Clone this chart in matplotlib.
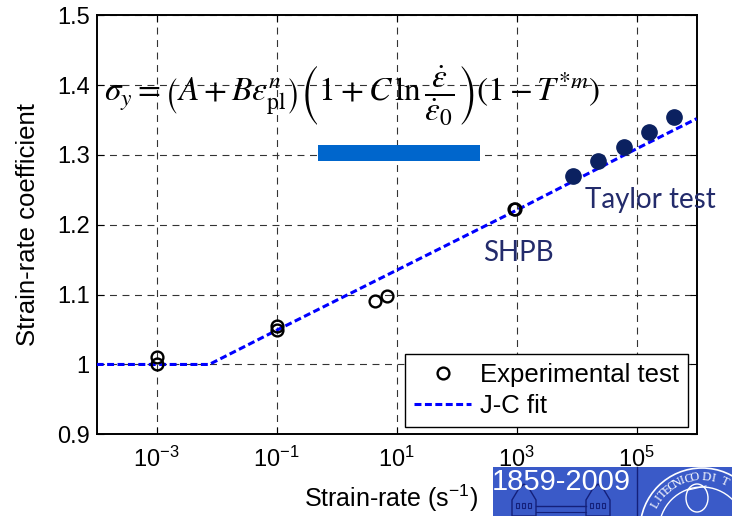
import numpy as np
import matplotlib
matplotlib.use('Agg')
import matplotlib.pyplot as plt
from matplotlib.patches import Rectangle, Circle, Ellipse, Polygon
from matplotlib.ticker import NullLocator

plt.rcParams['font.family'] = ['Liberation Sans', 'DejaVu Sans']
plt.rcParams['font.size'] = 17
plt.rcParams['lines.scale_dashes'] = False

# quasi-static / Hopkinson bar tests (open circles)
exp_rate = [1e-3, 1e-3, 0.1, 0.1, 4.4, 7.0, 900, 940]
exp_coef = [1.000, 1.010, 1.049, 1.055, 1.091, 1.098, 1.222, 1.223]

# Taylor impact tests
taylor_rate = [8.7e3, 2.26e4, 6.1e4, 1.62e5, 4.2e5]
taylor_coef = [1.270, 1.291, 1.312, 1.333, 1.354]

# Johnson-Cook strain-rate term
fit_rate = [1e-4, 7.5e-3, 1e-1, 1e0, 1e1, 1e2, 1e3, 1e4, 1e5, 1e6]
fit_coef = [1.0, 1.0, 1.049, 1.092, 1.135, 1.178, 1.221, 1.265, 1.309, 1.352]

xticks = [1e-3, 1e-1, 1e1, 1e3, 1e5]
xtick_labels = [r'$\mathregular{10^{-3}}$', r'$\mathregular{10^{-1}}$',
                r'$\mathregular{10^{1}}$', r'$\mathregular{10^{3}}$',
                r'$\mathregular{10^{5}}$']
yticks = [0.9, 1.0, 1.1, 1.2, 1.3, 1.4, 1.5]
ytick_labels = ['0.9', '1', '1.1', '1.2', '1.3', '1.4', '1.5']

W, H = 732, 516
fig = plt.figure(figsize=(W / 100, H / 100), dpi=100)
ax = fig.add_axes([96.7 / W, 1 - 434.3 / H, 600 / W, 419 / H])

h_fit, = ax.plot(fit_rate, fit_coef, color='#0000FF', lw=2.2, dashes=(5, 2.5),
                 label='J-C fit', zorder=3)
h_exp, = ax.plot(exp_rate, exp_coef, ls='none', marker='o', ms=8.5, mfc='none',
                 mec='k', mew=1.7, label='Experimental test', zorder=4)
ax.plot(taylor_rate, taylor_coef, ls='none', marker='o', ms=11,
        color='#0B2160', zorder=4)

ax.set_xscale('log')
ax.set_xlim(1e-4, 1e6)
ax.set_ylim(0.9, 1.5)
ax.set_xticks(xticks, labels=xtick_labels)
ax.xaxis.set_minor_locator(NullLocator())
ax.set_yticks(yticks, labels=ytick_labels)
ax.tick_params(direction='in', length=5, width=0.8, top=True, right=True)
ax.tick_params(axis='y', pad=5)
ax.tick_params(axis='x', pad=9)
for s in ax.spines.values():
    s.set_linewidth(1.4)
ax.grid(True, color='0.2', lw=0.8, linestyle=(0, (5, 4)))
ax.set_axisbelow(True)

ax.set_ylabel('Strain-rate coefficient', fontsize=18.5)
ax.yaxis.set_label_coords(-0.095, 0.5)
ax.set_xlabel(r'Strain-rate (s$^{\mathregular{-1}}$)', fontsize=18, va='baseline')
ax.xaxis.set_label_coords(0.4905, -0.1728)

leg = ax.legend(handles=[h_exp, h_fit], loc='lower right',
                bbox_to_anchor=(0.9855, 0.018), borderaxespad=0, fancybox=False,
                edgecolor='k', framealpha=1, handlelength=2.2, fontsize=18.5,
                handletextpad=0.35, borderpad=0.35, labelspacing=0.25)
leg.get_frame().set_linewidth(1.0)

ax.text(13750, 1.2245, 'Taylor test', family='Lato', size=20,
        color='#232B6B', va='baseline')
ax.text(277, 1.148, 'SHPB', family='Lato', size=20, color='#232B6B',
        va='baseline')

# overlay in pixel coordinates: equation, bar and logo strip
ov = fig.add_axes([0, 0, 1, 1], zorder=5)
ov.set_xlim(0, W)
ov.set_ylim(H, 0)
ov.axis('off')
ov.patch.set_alpha(0)

eq = (r'$\sigma_y = \left(A + B\varepsilon_{\mathrm{pl}}^{n}\right)'
      r'\left(1 + C\,\ln\dfrac{\dot{\varepsilon}}{\dot{\varepsilon}_0}\right)'
      r'\left(1 - T^{*m}\right)$')
ov.text(352, 101, eq, fontsize=24, math_fontfamily='stix', ha='center',
        va='baseline')
ov.add_patch(Rectangle((318.3, 145), 161.7, 15.7, color='#0066CC', lw=0))

ov.add_patch(Rectangle((493, 467), 239, 49, color='#3A5AC8', lw=0))
ov.text(492, 490, '1859-2009', color='white', size=21, va='baseline')
ov.plot([636.5, 636.5], [467, 516], color='#14207A', lw=1)
# towers
for x0 in (512, 586):
    ov.add_patch(Polygon([(x0, 516), (x0, 500), (x0 + 6, 490), (x0 + 12, 484),
                          (x0 + 18, 490), (x0 + 24, 500), (x0 + 24, 516)],
                         closed=True, fill=False, ec='#14207A', lw=1))
    for wx in (x0 + 4, x0 + 10, x0 + 16):
        ov.add_patch(Rectangle((wx, 503), 3, 5, fill=False, ec='#14207A', lw=0.8))
ov.plot([536, 586], [506, 506], color='#14207A', lw=1)
ov.plot([536, 586], [512, 512], color='#14207A', lw=0.8)
# seal
cx, cy = 702, 530
ov.add_patch(Circle((cx, cy), 62, fill=False, ec='white', lw=1.2))
ov.add_patch(Circle((cx, cy), 43, fill=False, ec='white', lw=1.0))
for i, ch in enumerate('POLITECNICO DI TORINO'):
    a = np.deg2rad(164 - 6.6 * i)
    px, py = cx + 53 * np.cos(a), cy - 53 * np.sin(a)
    if py > 509 or px > 726:
        continue
    ov.text(px, py, ch, color='white', family='Liberation Serif', size=9,
            ha='center', va='center', rotation=np.rad2deg(a) - 90)
ov.add_patch(Ellipse((697, 498), 22, 28, fill=False, ec='white', lw=1.0))
ov.plot([688, 706], [490, 486], color='white', lw=0.8)

fig.savefig('out.png', dpi=100)
